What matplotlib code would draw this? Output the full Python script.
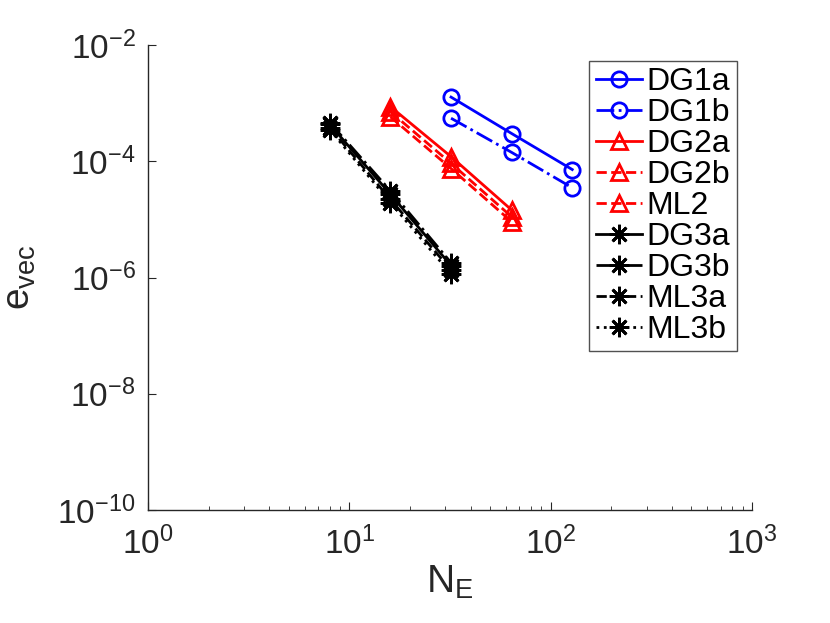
import numpy as np
import matplotlib
matplotlib.use("Agg")
import matplotlib.pyplot as plt
from matplotlib.ticker import LogLocator, NullLocator

plt.rcParams['font.family'] = ['Liberation Sans', 'DejaVu Sans']
plt.rcParams['mathtext.default'] = 'regular'

# number of elements per refinement level
ne_1 = [32, 64, 128]
ne_2 = [16, 32, 64]
ne_3 = [8, 16, 32]

# errors
dg1a = [1.27e-3, 3.0e-4, 7.2e-5]
dg1b = [5.5e-4, 1.42e-4, 3.5e-5]
dg2a = [8.7e-4, 1.2e-4, 1.45e-5]
dg2b = [7.1e-4, 9.2e-5, 1.11e-5]
ml2 = [5.8e-4, 7.5e-5, 9.1e-6]
dg3a = [4.3e-4, 2.7e-5, 1.6e-6]
dg3b = [4.6e-4, 3.1e-5, 1.8e-6]
ml3a = [3.8e-4, 2.2e-5, 1.35e-6]
ml3b = [3.5e-4, 1.95e-5, 1.15e-6]

star = (8, 2, 0)  # matlab style asterisk
series = [
    ("DG1a", ne_1, dg1a, "b", "-", "o"),
    ("DG1b", ne_1, dg1b, "b", "-.", "o"),
    ("DG2a", ne_2, dg2a, "r", "-", "^"),
    ("DG2b", ne_2, dg2b, "r", "--", "^"),
    ("ML2", ne_2, ml2, "r", "--", "^"),
    ("DG3a", ne_3, dg3a, "k", "-", star),
    ("DG3b", ne_3, dg3b, "k", "-.", star),
    ("ML3a", ne_3, ml3a, "k", "--", star),
    ("ML3b", ne_3, ml3b, "k", ":", star),
]

fig = plt.figure(figsize=(8.3, 6.23), dpi=100)
ax = fig.add_axes([148 / 830, 1 - 510 / 623, (752 - 148) / 830, (510 - 45) / 623])

for name, x, y, c, ls, mk in series:
    ms = 14 if mk == star else 11
    ax.plot(x, y, color=c, linestyle=ls, marker=mk, markersize=ms,
            markerfacecolor='none', markeredgewidth=2, linewidth=2, label=name)

ax.set_xscale('log')
ax.set_yscale('log')
ax.set_xlim(1, 1000)
ax.set_ylim(1e-10, 1e-2)
ax.set_yticks([1e-10, 1e-8, 1e-6, 1e-4, 1e-2])
ax.yaxis.set_minor_locator(NullLocator())
ax.xaxis.set_minor_locator(LogLocator(base=10, subs=np.arange(2, 10), numticks=20))

ax.spines['top'].set_visible(False)
ax.spines['right'].set_visible(False)
for s in ['left', 'bottom']:
    ax.spines[s].set_color('#262626')
    ax.spines[s].set_linewidth(1.0)
ax.tick_params(which='both', direction='in', labelsize=24, colors='#262626')
ax.tick_params(axis='x', which='major', length=6, pad=12)
ax.tick_params(axis='y', which='major', length=6, pad=9)
ax.tick_params(which='minor', length=3)

ax.set_xlabel(r'$N_E$', fontsize=28, color='#262626', labelpad=2)
ax.set_ylabel(r'$e_{vec}$', fontsize=28, color='#262626', labelpad=14)

leg = ax.legend(loc='upper right', bbox_to_anchor=(737 / 830, 1 - 61 / 623),
                bbox_transform=fig.transFigure, fontsize=23, frameon=True,
                fancybox=False, edgecolor='#262626', handlelength=1.45,
                handletextpad=0.15, labelspacing=0.03, borderpad=0.2,
                borderaxespad=0, markerscale=1.0)
leg.get_frame().set_linewidth(1.0)

fig.savefig("out.png", dpi=100)
